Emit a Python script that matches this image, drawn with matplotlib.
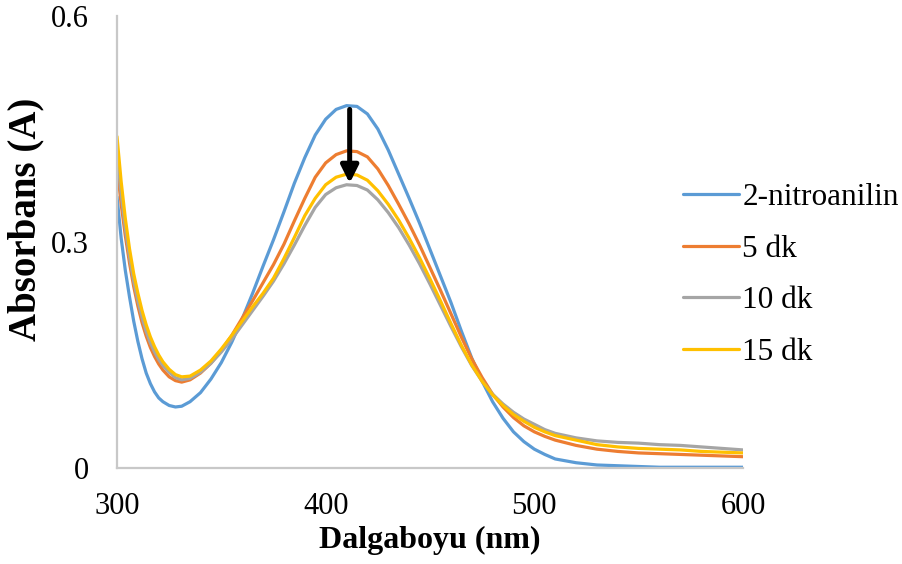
import matplotlib
matplotlib.use("Agg")
import matplotlib.pyplot as plt

# Wavelength grid (nm)
wavelength = [300, 302, 304, 306, 308, 310, 312, 314, 316, 318, 320, 322, 325, 328,
              331, 335, 340, 345, 350, 355, 360, 365, 370, 375, 380, 385, 390, 395,
              400, 405, 410, 415, 420, 425, 430, 435, 440, 445, 450, 455, 460, 465,
              470, 475, 480, 485, 490, 495, 500, 505, 510, 520, 530, 540, 550, 560,
              570, 580, 590, 600]

# Absorbance spectra
abs_nitroanilin = [0.360, 0.305, 0.262, 0.227, 0.195, 0.168, 0.145, 0.126, 0.112, 0.101,
                   0.093, 0.088, 0.083, 0.081, 0.082, 0.088, 0.100, 0.118, 0.140, 0.167,
                   0.198, 0.232, 0.268, 0.303, 0.340, 0.378, 0.412, 0.442, 0.463, 0.476,
                   0.481, 0.480, 0.470, 0.450, 0.422, 0.390, 0.358, 0.325, 0.290, 0.255,
                   0.220, 0.182, 0.146, 0.115, 0.088, 0.066, 0.048, 0.035, 0.025, 0.018,
                   0.012, 0.007, 0.004, 0.003, 0.002, 0.001, 0.001, 0.001, 0.001, 0.001]
abs_5dk = [0.400, 0.350, 0.308, 0.272, 0.241, 0.215, 0.193, 0.175, 0.160, 0.148,
           0.138, 0.130, 0.121, 0.116, 0.114, 0.117, 0.126, 0.139, 0.156, 0.176,
           0.199, 0.222, 0.246, 0.270, 0.297, 0.328, 0.358, 0.386, 0.405, 0.416,
           0.421, 0.420, 0.413, 0.397, 0.375, 0.350, 0.324, 0.296, 0.266, 0.236,
           0.205, 0.174, 0.145, 0.120, 0.098, 0.081, 0.067, 0.056, 0.048, 0.042,
           0.037, 0.030, 0.025, 0.022, 0.020, 0.019, 0.018, 0.017, 0.016, 0.015]
abs_10dk = [0.420, 0.364, 0.318, 0.280, 0.248, 0.222, 0.200, 0.181, 0.166, 0.154,
            0.144, 0.136, 0.127, 0.120, 0.117, 0.119, 0.127, 0.139, 0.154, 0.171,
            0.190, 0.209, 0.228, 0.248, 0.271, 0.296, 0.322, 0.346, 0.363, 0.372,
            0.376, 0.375, 0.369, 0.356, 0.339, 0.319, 0.296, 0.271, 0.244, 0.216,
            0.188, 0.161, 0.136, 0.115, 0.098, 0.085, 0.074, 0.065, 0.058, 0.051,
            0.046, 0.040, 0.036, 0.034, 0.033, 0.031, 0.030, 0.028, 0.026, 0.024]
abs_15dk = [0.440, 0.380, 0.331, 0.291, 0.258, 0.232, 0.209, 0.190, 0.174, 0.161,
            0.150, 0.141, 0.131, 0.124, 0.121, 0.122, 0.130, 0.142, 0.158, 0.176,
            0.195, 0.214, 0.232, 0.252, 0.278, 0.306, 0.335, 0.358, 0.376, 0.386,
            0.390, 0.389, 0.382, 0.368, 0.350, 0.329, 0.305, 0.279, 0.251, 0.222,
            0.192, 0.163, 0.137, 0.115, 0.097, 0.083, 0.071, 0.062, 0.054, 0.048,
            0.043, 0.037, 0.031, 0.028, 0.026, 0.025, 0.024, 0.022, 0.021, 0.020]

series_labels = ["2-nitroanilin", "5 dk", "10 dk", "15 dk"]
series_colors = ["#5B9BD5", "#ED7D31", "#A5A5A5", "#FFC000"]
series_values = [abs_nitroanilin, abs_5dk, abs_10dk, abs_15dk]

x_ticks = [300, 400, 500, 600]
y_ticks = [0, 0.3, 0.6]
y_tick_labels = ["0", "0.3", "0.6"]

# Arrow marking the decrease of the peak absorbance
arrow_wavelength = 411.5
arrow_start = 0.476
arrow_end = 0.378

plt.rcParams["font.family"] = ["Liberation Serif", "DejaVu Serif"]

fig = plt.figure(figsize=(9.03, 5.64), dpi=100)
ax = fig.add_axes([117 / 903, 1 - 468 / 564, 626 / 903, 452 / 564])

for vals, lab, col in zip(series_values, series_labels, series_colors):
    ax.plot(wavelength, vals, color=col, lw=2.3, label=lab,
            solid_capstyle="round", solid_joinstyle="round")

ax.annotate("", xy=(arrow_wavelength, arrow_end), xytext=(arrow_wavelength, arrow_start),
            arrowprops=dict(arrowstyle="-|>", lw=3.6, color="black",
                            mutation_scale=26, shrinkA=0, shrinkB=0))

ax.set_xlim(300, 600)
ax.set_ylim(0, 0.6)
ax.set_xticks(x_ticks)
ax.set_yticks(y_ticks)
ax.set_yticklabels(y_tick_labels)
ax.tick_params(axis="both", length=0, labelsize=22)
ax.tick_params(axis="x", pad=17)
ax.tick_params(axis="y", pad=20)

for side in ("top", "right"):
    ax.spines[side].set_visible(False)
for side in ("left", "bottom"):
    ax.spines[side].set_color("#C8C8C8")
    ax.spines[side].set_linewidth(1.6)

ax.set_xlabel("Dalgaboyu (nm)", fontsize=23, fontweight="bold")
ax.set_ylabel("Absorbans (A)", fontsize=28, fontweight="bold")
ax.xaxis.set_label_coords(0.5, -0.128)
ax.yaxis.set_label_coords(-0.116, 0.551)

fig.legend(loc="center left", bbox_to_anchor=(683 / 903, 1 - 275 / 564),
           frameon=False, fontsize=22.5, handlelength=1.8, handletextpad=0.1,
           labelspacing=0.73, borderpad=0, borderaxespad=0)

fig.savefig("out.png", dpi=100)
